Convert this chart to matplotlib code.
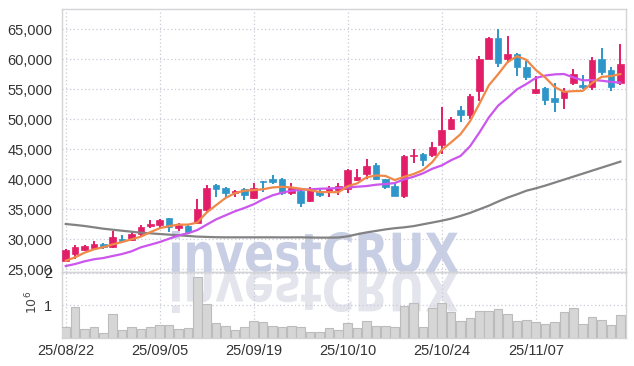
import matplotlib
matplotlib.use("Agg")
import matplotlib.pyplot as plt
import numpy as np
from matplotlib.textpath import TextPath
from matplotlib.patches import PathPatch
from matplotlib.font_manager import FontProperties
from matplotlib.transforms import Affine2D, IdentityTransform

# trading days (yy/mm/dd)
dates = ["25/08/22", "25/08/25", "25/08/26", "25/08/27", "25/08/28", "25/08/29",
         "25/09/01", "25/09/02", "25/09/03", "25/09/04", "25/09/05", "25/09/08",
         "25/09/09", "25/09/10", "25/09/11", "25/09/12", "25/09/15", "25/09/16",
         "25/09/17", "25/09/18", "25/09/19", "25/09/22", "25/09/23", "25/09/24",
         "25/09/25", "25/09/26", "25/09/29", "25/09/30", "25/10/01", "25/10/02",
         "25/10/10", "25/10/13", "25/10/14", "25/10/15", "25/10/16", "25/10/17",
         "25/10/20", "25/10/21", "25/10/22", "25/10/23", "25/10/24", "25/10/27",
         "25/10/28", "25/10/29", "25/10/30", "25/10/31", "25/11/03", "25/11/04",
         "25/11/05", "25/11/06", "25/11/07", "25/11/10", "25/11/11", "25/11/12",
         "25/11/13", "25/11/14", "25/11/17", "25/11/18", "25/11/19", "25/11/20"]

opens = [26450, 27550, 28200, 28550, 29200, 28700, 30100, 29900, 30900, 32200,
         32450, 33550, 31900, 32200, 32770, 34900, 39100, 38550, 37700, 38450,
         36950, 39750, 40100, 40100, 37770, 38100, 36430, 38100, 37880, 38220,
         38430, 39880, 40880, 42330, 40000, 38880, 37220, 43880, 44220, 44000,
         45670, 48430, 51550, 50770, 54670, 60100, 63550, 60000, 60880, 58770,
         54430, 55220, 53550, 53550, 56000, 55670, 55430, 60100, 58220, 56100]
highs = [28400, 29100, 29000, 29650, 29450, 31350, 30800, 31300, 32350, 33200,
         33350, 33600, 32750, 32350, 36650, 39100, 39250, 38700, 38200, 38600,
         39450, 39800, 40750, 40200, 39430, 38200, 38670, 38430, 38880, 39430,
         41780, 41670, 43330, 42670, 40100, 39430, 44000, 45000, 44430, 46220,
         52000, 50330, 52220, 54220, 60550, 63670, 65000, 63880, 61100, 59770,
         57220, 55450, 56000, 55220, 58430, 57330, 60430, 61880, 58770, 62550]
lows = [26400, 26700, 28100, 28350, 28350, 28550, 29450, 29650, 30450, 31900,
        31800, 31200, 31450, 30900, 32550, 34450, 37000, 37000, 37000, 36550,
        36650, 37900, 39200, 37330, 37430, 35450, 36220, 37100, 37100, 37330,
        37670, 39770, 40100, 39900, 38430, 37200, 36880, 42770, 42220, 43770,
        44220, 48200, 49550, 50000, 53000, 60000, 58670, 59430, 57220, 56550,
        54220, 52430, 51220, 51670, 55670, 55100, 54880, 57430, 54670, 55670]
closes = [28200, 28650, 28900, 29200, 28650, 30350, 29650, 30900, 32000, 32550,
          33200, 32000, 32450, 31200, 35000, 38550, 38450, 37650, 38000, 37350,
          38550, 39550, 39550, 37770, 38550, 36100, 38220, 37430, 38550, 38880,
          41550, 40330, 42220, 40000, 38770, 37220, 43880, 44000, 43220, 45330,
          48220, 50100, 50770, 53880, 60000, 63550, 59430, 60880, 58770, 57000,
          55100, 53220, 52880, 54770, 57550, 55330, 59880, 57880, 55430, 59220]

ma_short = [26430, 27000, 27770, 28330, 28700, 29150, 29550, 30000, 30450, 31200,
            31850, 32200, 32450, 32450, 32800, 34500, 35700, 36900, 37700, 38100,
            38200, 38350, 38650, 38750, 38650, 38430, 38200, 37880, 37880, 37850,
            38850, 39330, 40330, 40650, 40570, 39880, 40420, 40880, 41550, 42880,
            44930, 46170, 47530, 49660, 52590, 55660, 57530, 59550, 60530, 59930,
            58240, 56990, 55400, 54600, 54700, 54750, 56080, 57080, 57210, 57550]
ma_mid = [25550, 25880, 26330, 26670, 26880, 27220, 27550, 28000, 28670, 29100,
          29550, 30100, 30670, 31000, 31550, 32450, 33330, 34000, 34670, 35220,
          35850, 36670, 37330, 37770, 38100, 38250, 38330, 38430, 38480, 38550,
          38620, 38770, 38880, 39100, 39220, 39380, 40000, 40430, 41000, 41770,
          42320, 43200, 43900, 45500, 47800, 50300, 52300, 53600, 55000, 55900,
          56900, 57300, 57500, 57560, 57000, 56500, 56550, 56450, 56250, 56130]
ma_long = [32550, 32400, 32220, 32000, 31770, 31600, 31430, 31270, 31100, 31000,
           30880, 30780, 30670, 30560, 30450, 30400, 30350, 30330, 30330, 30330,
           30330, 30330, 30330, 30320, 30320, 30330, 30300, 30280, 30280, 30300,
           30500, 30850, 31150, 31400, 31650, 31850, 32000, 32200, 32500, 32800,
           33100, 33450, 33900, 34400, 35000, 35600, 36300, 36950, 37500, 38100,
           38500, 38950, 39450, 39950, 40450, 40950, 41450, 41950, 42450, 42950]

# volume in millions of shares
volume = [0.33, 0.95, 0.29, 0.33, 0.15, 0.74, 0.24, 0.33, 0.27, 0.33,
          0.40, 0.40, 0.27, 0.30, 1.87, 1.05, 0.46, 0.37, 0.24, 0.33,
          0.52, 0.49, 0.37, 0.33, 0.37, 0.33, 0.18, 0.18, 0.30, 0.24,
          0.46, 0.30, 0.52, 0.37, 0.37, 0.33, 0.99, 1.08, 0.33, 0.93,
          1.08, 0.80, 0.52, 0.61, 0.83, 0.83, 0.90, 0.74, 0.52, 0.55,
          0.49, 0.43, 0.49, 0.80, 0.93, 0.43, 0.64, 0.55, 0.39, 0.70]

up_col = "#e21e68"
down_col = "#2e96c8"
grid_col = "#c9cad6"
spine_col = "#d4d4d8"
tick_font = ["Liberation Sans", "DejaVu Sans"]

W, H = 634, 366
fig = plt.figure(figsize=(W / 100, H / 100), dpi=100)
fig.patch.set_facecolor("white")

left, right = 62, 626
ax = fig.add_axes([left / W, (H - 272) / H, (right - left) / W, (272 - 9) / H])
axv = fig.add_axes([left / W, (H - 338) / H, (right - left) / W, (338 - 272) / H], sharex=ax)
for a in (ax, axv):
    a.set_facecolor("none")
    for s in a.spines.values():
        s.set_color(spine_col)
        s.set_linewidth(1)
    a.grid(True, color=grid_col, linestyle=(0, (1, 2)), linewidth=0.9)
    a.tick_params(length=0, labelsize=10.5, colors="#333333", pad=7)

x = np.arange(len(dates))

# candles
cols = [up_col if c >= o else down_col for o, c in zip(opens, closes)]
ax.vlines(x, lows, highs, colors=cols, linewidth=1.4, zorder=3)
bottoms = [min(o, c) for o, c in zip(opens, closes)]
heights = [max(abs(c - o), 80) for o, c in zip(opens, closes)]
ax.bar(x, heights, bottom=bottoms, width=0.7, color=cols, edgecolor=cols,
       linewidth=0.5, zorder=4)

# moving averages
ax.plot(x, ma_long, color="#828282", linewidth=1.6, zorder=5)
ax.plot(x, ma_mid, color="#cc55ee", linewidth=1.6, zorder=5)
ax.plot(x, ma_short, color="#f08848", linewidth=1.6, zorder=5)

ax.set_xlim(-0.4, 59.6)
ax.set_ylim(24550, 68400)
ax.set_yticks(range(25000, 65001, 5000))
ax.set_yticklabels([f"{v:,}" for v in range(25000, 65001, 5000)], family=tick_font)
plt.setp(ax.get_xticklabels(), visible=False)

# volume
axv.bar(x, [v * 1e6 for v in volume], width=0.92, color="#d6d6d6",
        edgecolor="#bcbcbc", linewidth=0.8, zorder=3)
axv.set_ylim(0, 2.03e6)
axv.set_yticks([1e6, 2e6])
axv.set_yticklabels(["1", "2"], family=tick_font)
axv.set_xticks(x[::10])
axv.set_xticklabels(dates[::10], family=tick_font)
axv.tick_params(axis="x", pad=4)
fig.text(32 / W, (H - 302) / H, r"$10^6$", rotation=90, ha="center", va="center",
         fontsize=9, color="#444444")

# watermark with reflection
fp = FontProperties(family="DejaVu Sans", weight="bold")
tp = TextPath((0, 0), "investCRUX", size=100, prop=fp)
ext = tp.get_extents()
sx = (458 - 172) / ext.width
sy = 41 / ext.y1
base = H - 272
main = Affine2D().translate(-ext.x0, 0).scale(sx, sy).translate(172, base)
refl = Affine2D().translate(-ext.x0, 0).scale(sx, -sy).translate(172, base)
fig.patches.append(PathPatch(main.transform_path(tp), transform=IdentityTransform(),
                             facecolor="#c8cfe4", edgecolor="none", zorder=-1))
fig.patches.append(PathPatch(refl.transform_path(tp), transform=IdentityTransform(),
                             facecolor="#e3e4ec", edgecolor="none", zorder=-1))

fig.savefig("out.png", dpi=100)
